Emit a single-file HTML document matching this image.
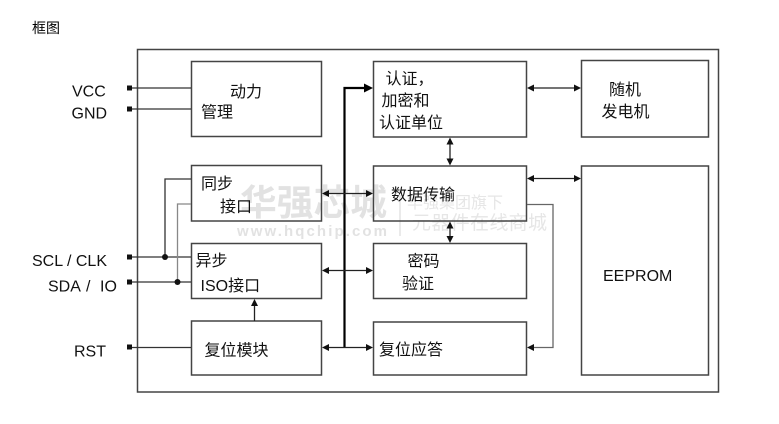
<!DOCTYPE html>
<html><head><meta charset="utf-8"><style>
html,body{margin:0;padding:0;background:#fff;}
svg{display:block;}
text{font-family:"Liberation Sans","Noto Sans CJK SC",sans-serif;}
</style></head><body>
<svg width="779" height="424" viewBox="0 0 779 424" xmlns="http://www.w3.org/2000/svg">
<rect width="779" height="424" fill="#fff"/>
<!-- watermark -->
<g fill="#e2e2e2">
<text x="240" y="215" font-size="36" font-weight="bold" textLength="147" lengthAdjust="spacingAndGlyphs">华强芯城</text>
<text x="237" y="236" font-size="15" font-weight="bold" textLength="150" lengthAdjust="spacing">www.hqchip.com</text>
<text x="407" y="208" font-size="16" fill="#e6e6e6">华强集团旗下</text>
<text x="412" y="229" font-size="19" fill="#e6e6e6" textLength="135">元器件在线商城</text>
</g>
<line x1="400" y1="195" x2="400" y2="236" stroke="#e2e2e2" stroke-width="1.5"/>

<text x="32" y="33" font-size="14" fill="#000">框图</text>

<!-- outer -->
<rect x="137.5" y="49.5" width="581" height="342.5" fill="none" stroke="#444" stroke-width="1.5"/>

<g fill="none" stroke="#444" stroke-width="1.5">
<rect x="191.5" y="61.5" width="130" height="75"/>
<rect x="191.5" y="165.5" width="130" height="55.5"/>
<rect x="191.5" y="243.5" width="130" height="55"/>
<rect x="191.5" y="321" width="130" height="54"/>
<rect x="373.5" y="61.5" width="153" height="75.5"/>
<rect x="581.5" y="60.5" width="127" height="76.5"/>
<rect x="373.5" y="166" width="153" height="55"/>
<rect x="373.5" y="243.5" width="153" height="55"/>
<rect x="373.5" y="322" width="153" height="53"/>
<rect x="581.5" y="166" width="127" height="209"/>
</g>

<!-- pins -->
<g fill="#111">
<rect x="127" y="85.5" width="5" height="5"/>
<rect x="127" y="106.5" width="5" height="5"/>
<rect x="127" y="254.5" width="5" height="5"/>
<rect x="127" y="279.5" width="5" height="5"/>
<rect x="127" y="344.5" width="5" height="5"/>
</g>
<g stroke="#333" stroke-width="1.3" fill="none">
<line x1="132" y1="88" x2="191" y2="88"/>
<line x1="132" y1="109" x2="191" y2="109"/>
<line x1="132" y1="257" x2="191" y2="257"/>
<line x1="132" y1="282" x2="191" y2="282"/>
<line x1="132" y1="347.5" x2="191" y2="347.5"/>
<polyline points="165,257 165,179 191,179"/>
</g>
<polyline points="177.5,282 177.5,204 191,204" fill="none" stroke="#888" stroke-width="1.3"/>
<circle cx="165" cy="257" r="3" fill="#111"/>
<circle cx="177.5" cy="282" r="3" fill="#111"/>

<!-- bus -->
<polyline points="344.5,347.5 344.5,88 365,88" fill="none" stroke="#000" stroke-width="2.2"/>
<polygon points="373,88 364,83.5 364,92.5" fill="#000"/>

<!-- double arrows horizontal -->
<g stroke="#222" stroke-width="1.3">
<line x1="327" y1="193.5" x2="367" y2="193.5"/>
<line x1="327" y1="270.5" x2="367" y2="270.5"/>
<line x1="327" y1="347.5" x2="367" y2="347.5"/>
<line x1="532" y1="88" x2="575" y2="88"/>
<line x1="532" y1="178.5" x2="575" y2="178.5"/>
<line x1="450" y1="143" x2="450" y2="160"/>
<line x1="450" y1="227" x2="450" y2="237"/>
<line x1="254.5" y1="305" x2="254.5" y2="321"/>
</g>
<g fill="#111">
<polygon points="322,193.5 329,190 329,197"/><polygon points="373,193.5 366,190 366,197"/>
<polygon points="322,270.5 329,267 329,274"/><polygon points="373,270.5 366,267 366,274"/>
<polygon points="322,347.5 329,344 329,351"/><polygon points="373,347.5 366,344 366,351"/>
<polygon points="527,88 534,84.5 534,91.5"/><polygon points="581,88 574,84.5 574,91.5"/>
<polygon points="527,178.5 534,175 534,182"/><polygon points="581,178.5 574,175 574,182"/>
<polygon points="450,137.5 446.5,144.5 453.5,144.5"/><polygon points="450,165.5 446.5,158.5 453.5,158.5"/>
<polygon points="450,221.5 446.5,228.5 453.5,228.5"/><polygon points="450,243 446.5,236 453.5,236"/>
<polygon points="254.5,299 251,306 258,306"/>
</g>
<polyline points="527,204.5 553,204.5 553,347.5 533,347.5" fill="none" stroke="#666" stroke-width="1.3"/>
<polygon points="527,347.5 534,344 534,351" fill="#111"/>

<!-- pin labels -->
<g font-size="16" fill="#111">
<text x="72" y="96.5">VCC</text>
<text x="71.5" y="118.5">GND</text>
<text x="32" y="266">SCL / CLK</text>
<text x="48" y="291.5">SDA</text>
<text x="86" y="291.5">/</text>
<text x="100" y="291.5">IO</text>
<text x="74" y="356.5">RST</text>
</g>

<!-- box labels -->
<g font-size="16" fill="#111">
<text x="230" y="97">动力</text>
<text x="201" y="117.5">管理</text>
<text x="201" y="189">同步</text>
<text x="220" y="212">接口</text>
<text x="195.5" y="266">异步</text>
<text x="200.5" y="291">ISO接口</text>
<text x="204.5" y="355.5">复位模块</text>
<text x="385.5" y="84">认证，</text>
<text x="381.5" y="106">加密和</text>
<text x="379" y="128">认证单位</text>
<text x="609" y="95">随机</text>
<text x="601.5" y="117">发电机</text>
<text x="391" y="200">数据传输</text>
<text x="407.5" y="266.5">密码</text>
<text x="402" y="289">验证</text>
<text x="379" y="355">复位应答</text>
<text x="603" y="281">EEPROM</text>
</g>
</svg>
</body></html>
